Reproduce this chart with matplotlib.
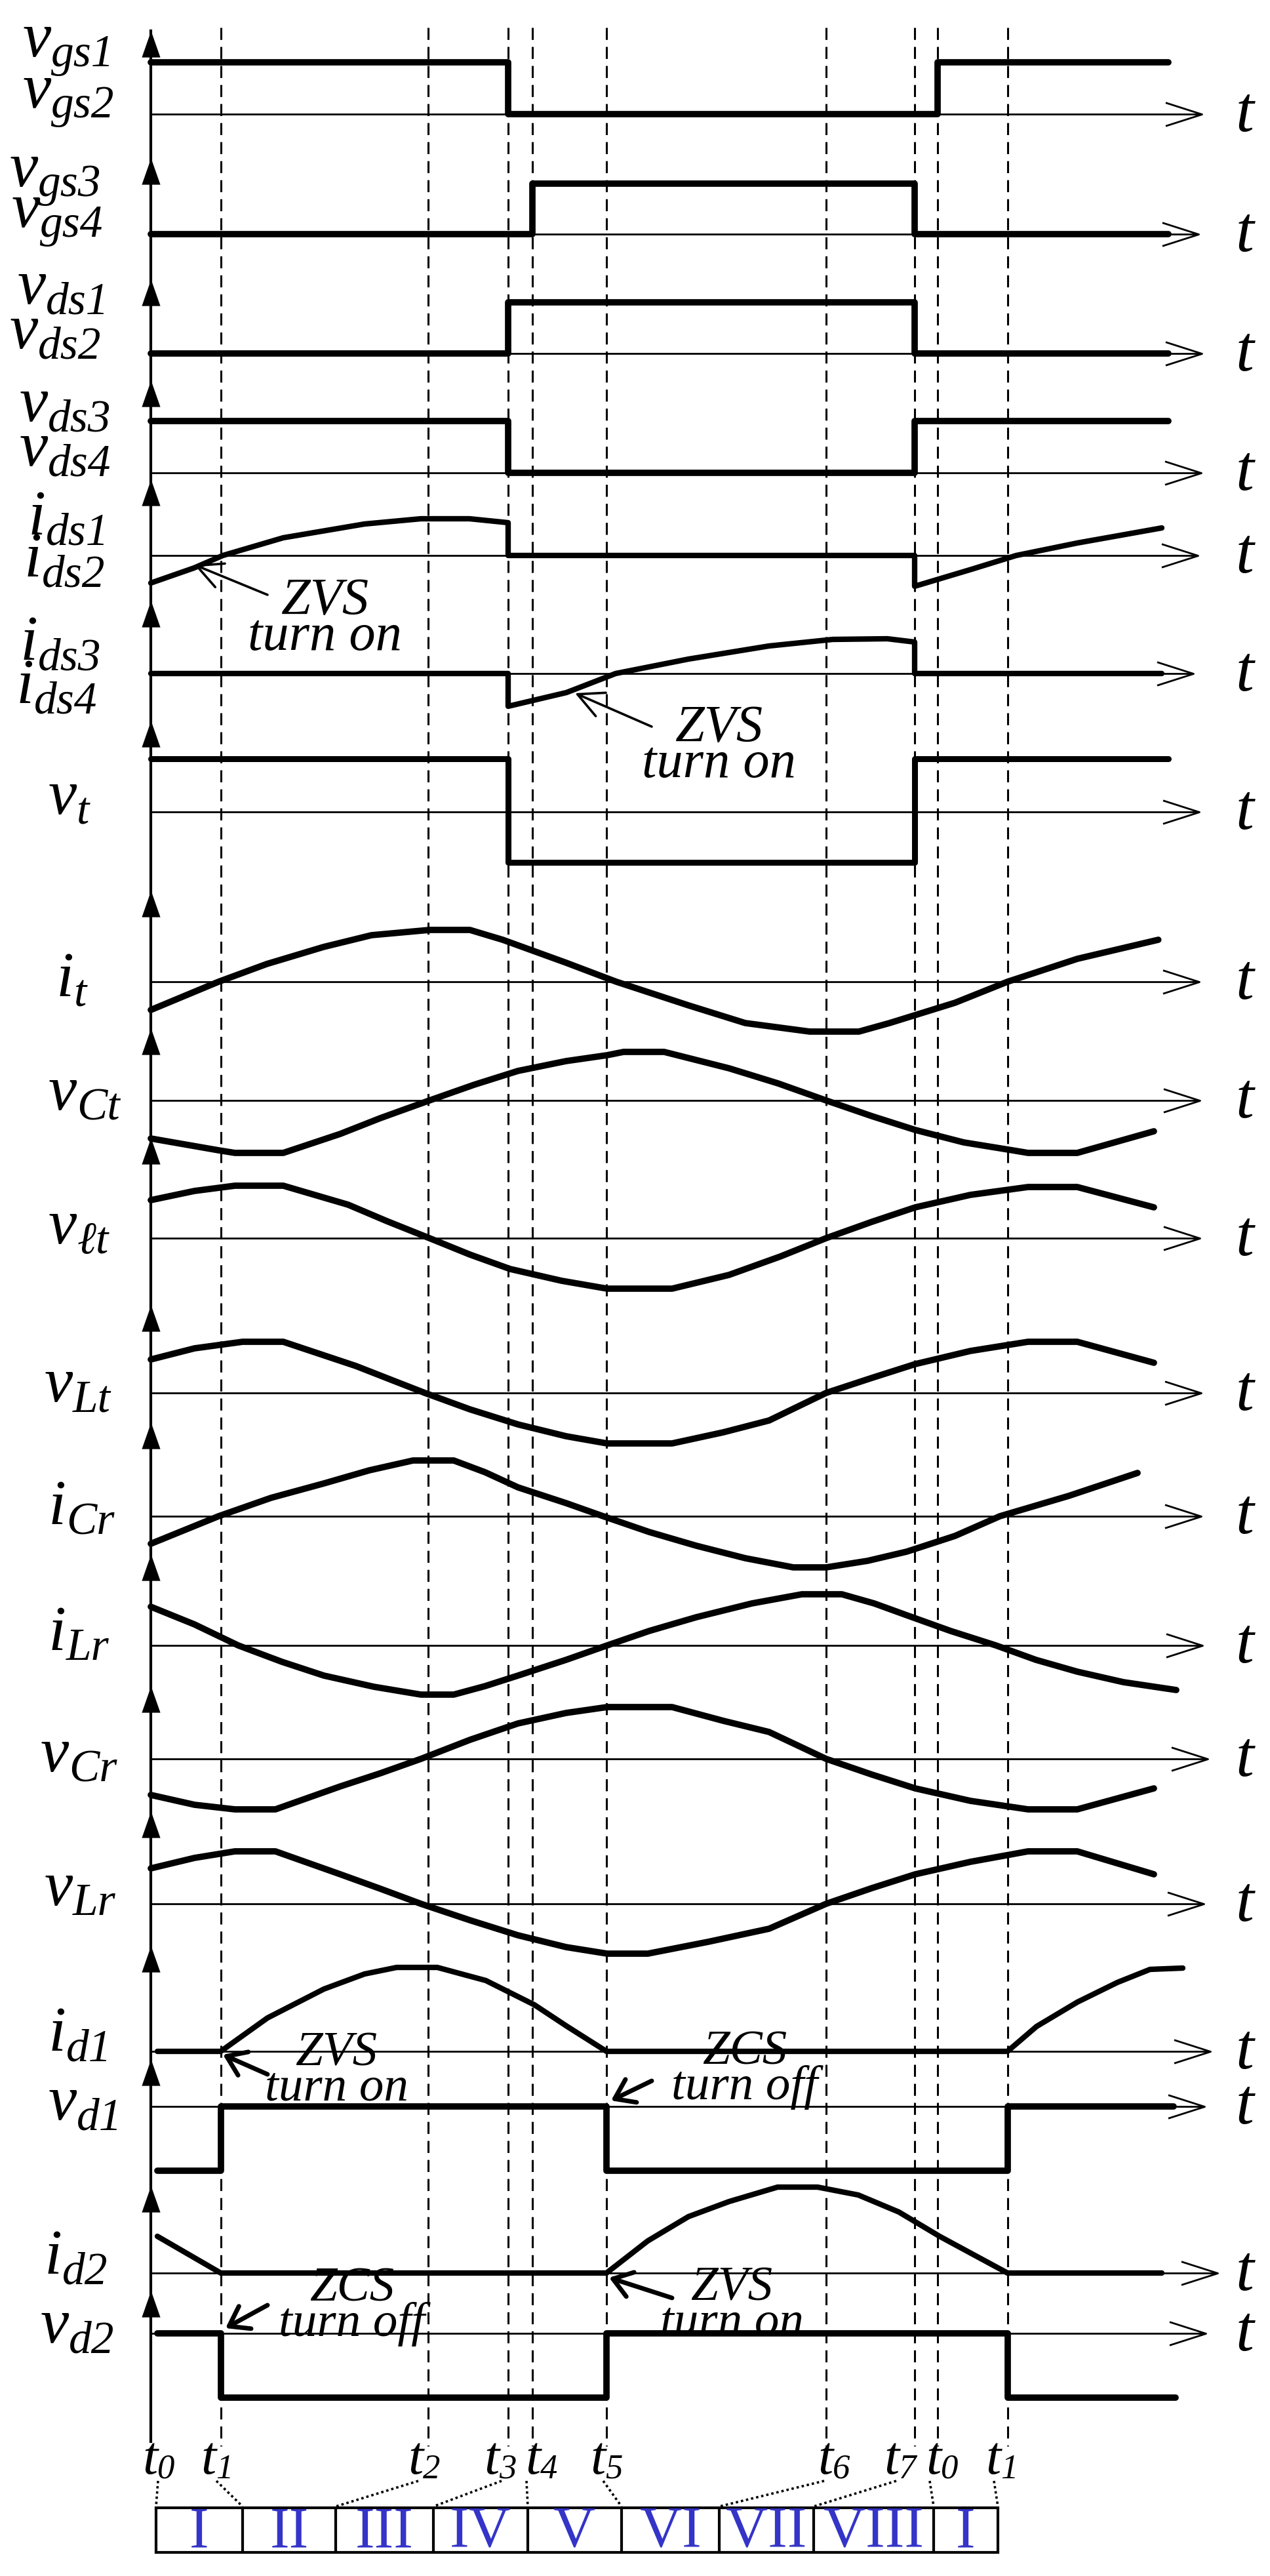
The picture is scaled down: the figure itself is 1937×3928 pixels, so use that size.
import numpy as np
import matplotlib
matplotlib.use("Agg")
from matplotlib import pyplot as plt
from matplotlib.path import Path
import matplotlib.transforms as mtransforms

W, H = 1937, 3928
X0, PX_PER_DEG = 230, 3.3333   # t0 sits on the vertical axis, one degree of the period in pixels

SERIF = ['Liberation Serif', 'DejaVu Serif']
BLUE = '#3434c8'

# switching instants in degrees of one period (t0 = 0 on the axis)
t_marks = [32, 127, 163.5, 174.6, 208.5, 309, 349.5, 360, 392]

# rows: baseline of each time axis, tip of its vertical arrow, end of its t arrow
row_y = [174, 357, 539, 721, 847, 1027, 1238, 1497, 1678, 1888,
         2124, 2312, 2509, 2682, 2903, 3128, 3212, 3466, 3558]
axis_tip_y = [47, 241, 426, 580, 731, 916, 1099, 1358, 1568, 1735,
              1990, 2169, 2370, 2571, 2762, 2967, 3140, 3333, 3493]
arrow_end = [481, 479.4, 481, 480.6, 479.1, 477, 479.7, 479.7, 480, 480,
             480.6, 480.6, 481.2, 483.6, 481.8, 484.8, 482.1, 488.1, 482.7]

# waveforms: time (deg) and level (positive = above the time axis)
vgs12_t = [0, 163.5, 163.5, 360, 360, 465.6]
vgs12 = [79, 79, 0, 0, 79, 79]
vgs34_t = [0, 174.6, 174.6, 349.5, 349.5, 465.6]
vgs34 = [0, 0, 77, 77, 0, 0]
vds12_t = [0, 163.5, 163.5, 349.5, 349.5, 465.6]
vds12 = [0, 0, 78, 78, 0, 0]
vds34_t = [0, 163.5, 163.5, 349.5, 349.5, 465.6]
vds34 = [79, 79, 0, 0, 79, 79]
ids12_t = [0, 19.8, 33, 60.6, 97.8, 123.6, 145.8, 163.5, 163.5, 349.5, 349.5, 375.6, 396, 423.9, 462.6]
ids12 = [-42, -19, 0, 27, 48, 56, 56, 50, 0, 0, -47, -21, 0, 19, 42]
ids34_t = [0, 163.5, 163.5, 190.2, 212.7, 246, 282.9, 312, 337, 349.5, 349.5, 462.6]
ids34 = [0, 0, -50, -29, 0, 22, 42, 52, 53, 48, 0, 0]
vt_t = [0, 163.5, 163.5, 349.5, 349.5, 465.6]
vt = [81, 81, -77, -77, 81, 81]

it_t = [0, 31, 53, 79, 101, 127.5, 146, 161, 190, 213, 246, 272, 301.5, 324, 338, 368, 392, 424, 461]
it = [-43, 0, 27, 53, 71, 79, 79, 64, 29, 0, -36, -63, -76, -76, -63, -32, 0, 35, 64]
vct_t = [0, 31, 38.5, 60.6, 86.7, 105, 127.5, 148, 168, 190, 208.8, 216.3, 234.9, 264.6,
         287, 309, 330, 349.8, 372, 394.2, 401.4, 423.9, 459]
vct = [-58, -76, -80, -80, -51, -27, 0, 24, 45, 60, 69, 74, 74, 49,
       26, 0, -24, -45, -64, -76, -80, -80, -47]
vlt_t = [0, 20, 38.5, 60.6, 90.3, 108, 127.5, 146, 164.4, 188, 208.8, 238.5, 264.6,
         288, 309, 330, 349.8, 375, 401.4, 423.9, 459]
vlt = [58, 72, 80, 80, 51, 26, 0, -25, -47, -65, -77, -77, -56,
       -28, 0, 25, 47, 66, 78, 78, 47]
vLt_t = [0, 20, 42, 60.6, 93.9, 110, 125.4, 146, 168, 190, 208.8, 238.5, 262, 282.9,
         309, 330, 349.8, 375, 401.4, 423.9, 459]
vLt = [51, 68, 78, 78, 41, 20, 0, -25, -48, -66, -77, -77, -60, -42,
       0, 23, 44, 64, 78, 78, 46]
icr_t = [0, 31, 55, 79.2, 100, 120, 138.6, 153, 168, 190, 207, 228, 249.6, 272, 294,
         309, 328, 345.9, 368, 388.5, 420, 451.5]
icr = [-42, 0, 28, 50, 70, 85, 85, 67, 44, 20, 0, -24, -45, -64, -78,
       -78, -68, -54, -30, 0, 31, 66]
ilr_t = [0, 20, 40, 60, 79.2, 102, 123.6, 138.6, 153, 168, 190, 208.8, 228, 249.6, 275,
         297.9, 316.2, 331, 345.9, 366, 386.7, 405, 423.9, 445, 469.2]
ilr = [59, 32, 0, -25, -46, -63, -75, -75, -62, -46, -22, 0, 22, 43, 64,
       78, 78, 64, 46, 22, 0, -22, -40, -56, -68]
vcr_t = [0, 20, 38.5, 57, 86.7, 105, 123.6, 146, 168, 190, 208.8, 238.5, 262, 282.9,
         309, 330, 349.8, 375, 401.4, 423.9, 459]
vcr = [-55, -70, -77, -77, -42, -22, 0, 29, 54, 70, 79, 79, 58, 41,
       0, -24, -45, -64, -77, -77, -45]
vlr_t = [0, 20, 38.5, 57, 86.7, 105, 123.6, 146, 168, 190, 208.8, 227.4, 255, 282.9,
         309, 330, 349.8, 375, 401.4, 423.9, 459]
vlr = [54, 70, 80, 80, 45, 23, 0, -25, -48, -66, -76, -76, -58, -38,
       0, 24, 45, 64, 80, 80, 45]
id1_t = [3, 32, 53.4, 79.2, 97.8, 112.5, 131.1, 153.3, 175.5, 190.5, 208.5,
         392, 405.3, 423.9, 442.2, 457.2, 472.2]
id1 = [0, 0, 51, 95, 118, 128, 128, 108, 71, 38, 0, 0, 38, 75, 105, 125, 127]
vd1_t = [3, 32, 32, 208.5, 208.5, 392, 392, 468]
vd1 = [-98, -98, 0, 0, -98, -98, 0, 0]
id2_t = [3, 32, 208.5, 227.4, 246, 264.6, 286.8, 305.1, 323.7, 342.3, 360.9, 392, 462.6]
id2 = [56, 0, 0, 49, 86, 109, 131, 131, 119, 93, 56, 0, 0]
vd2_t = [3, 32, 32, 208.5, 208.5, 392, 392, 468.9]
vd2 = [0, 0, -98, -98, 0, 0, -98, -98]

waves = [(vgs12_t, vgs12), (vgs34_t, vgs34), (vds12_t, vds12), (vds34_t, vds34),
         (ids12_t, ids12), (ids34_t, ids34), (vt_t, vt), (it_t, it), (vct_t, vct),
         (vlt_t, vlt), (vLt_t, vLt), (icr_t, icr), (ilr_t, ilr), (vcr_t, vcr),
         (vlr_t, vlr), (id1_t, id1), (vd1_t, vd1), (id2_t, id2), (vd2_t, vd2)]
wave_lw = [7, 7, 7, 7, 6, 6, 6.5, 7, 7, 7, 7, 7, 7, 7, 7, 6, 7, 6, 7]

# left labels: symbol, subscript, x and baseline in pixels
row_labels = [('v', 'gs1', 35, 86), ('v', 'gs2', 35, 164), ('v', 'gs3', 15, 284), ('v', 'gs4', 18, 346),
              ('v', 'ds1', 27, 463), ('v', 'ds2', 15, 531), ('v', 'ds3', 30, 642), ('v', 'ds4', 30, 710),
              ('i', 'ds1', 43, 815), ('i', 'ds2', 37, 879), ('i', 'ds3', 31, 1006), ('i', 'ds4', 25, 1072),
              ('v', 't', 74, 1241), ('i', 't', 86, 1519), ('v', 'Ct', 74, 1692), ('v', 'ℓt', 74, 1896),
              ('v', 'Lt', 68, 2137), ('i', 'Cr', 74, 2324), ('i', 'Lr', 74, 2516), ('v', 'Cr', 62, 2701),
              ('v', 'Lr', 68, 2905), ('i', 'd1', 74, 3127), ('v', 'd1', 74, 3232), ('i', 'd2', 68, 3467),
              ('v', 'd2', 62, 3572)]

# bottom time labels and the interval boxes
time_subs = ['0', '1', '2', '3', '4', '5', '6', '7', '0', '1']
time_label_x = [217, 306, 622, 738, 801, 900, 1247, 1348, 1412, 1503]
conn_top = [3.3, 30, 122.4, 160.5, 171.9, 207, 308.1, 341.1, 356.4, 385.8]
box_edges = [2.4, 42, 84.6, 129.3, 172.5, 215.4, 260.1, 303.3, 358.2, 387.6]
modes = ['I', 'II', 'III', 'IV', 'V', 'VI', 'VII', 'VIII', 'I']

# soft-switching notes: text, centre x, baseline of the second line, arrow tail, arrow tip
notes_thin = [('ZVS\nturn on', 495, 991, (408, 907), (296, 861)),
              ('ZVS\nturn on', 1096, 1185, (994, 1108), (877, 1057))]
notes_bold = [('ZVS\nturn on', 513, 3203, (408, 3163), (340, 3133)),
              ('ZCS\nturn off', 1136, 3201, (994, 3173), (932, 3203)),
              ('ZCS\nturn off', 537, 3562, (408, 3515), (344, 3550)),
              ('ZVS\nturn on', 1116, 3561, (1025, 3504), (929, 3473))]

fig = plt.figure(figsize=(W / 100, H / 100), dpi=100)
ax = fig.add_axes([0, 0, 1, 1])
ax.set_xlim(-X0 / PX_PER_DEG, (W - X0) / PX_PER_DEG)
ax.set_ylim(H, 0)
ax.axis('off')
px = mtransforms.Affine2D().scale(1 / W, -1 / H).translate(0, 1) + fig.transFigure

open_head = Path([(-1, 0.32), (0, 0), (-1, -0.32)], [Path.MOVETO, Path.LINETO, Path.LINETO])
up_head = Path([(0, 1), (-0.7, -1), (0.7, -1), (0, 1)],
               [Path.MOVETO, Path.LINETO, Path.LINETO, Path.CLOSEPOLY])

# dashed instants and the vertical axis
ax.vlines(t_marks, 42, 3730, colors='k', lw=2.2, linestyles=(0, (6, 3.5)))
ax.plot([0, 0], [47, 3723], color='k', lw=3)

for y, tip, end, (tt, lv), lw in zip(row_y, axis_tip_y, arrow_end, waves, wave_lw):
    ax.plot([0, end], [y, y], color='k', lw=2.0, solid_capstyle='butt')
    ax.plot([end], [y], marker=open_head, ms=80, mfc='none', mec='k', mew=2.0)
    ax.plot([0], [tip + 20], marker=up_head, ms=29, color='k', mew=0)
    ax.plot(tt, y - np.array(lv), color='k', lw=lw, solid_capstyle='round',
            solid_joinstyle='round')
    ax.text(1898, y + 26, 't', transform=px, fontsize=72, fontstyle='italic',
            family=SERIF, ha='center', va='baseline')


def symbol(x, y, main, sub, size, subsize, dx=1, dy=3, color='k'):
    t = ax.text(x, y, main, transform=px, fontsize=size, fontstyle='italic',
                family=SERIF, va='baseline', ha='left', color=color)
    ax.annotate(sub, xy=(1, 0), xycoords=t, xytext=(dx, dy), textcoords='offset points',
                fontsize=subsize, fontstyle='italic', family=SERIF, va='baseline', ha='left',
                color=color)


for main, sub, x, y in row_labels:
    symbol(x, y, main, sub, 70, 50, dx=0, dy=4)

for sub, x in zip(time_subs, time_label_x):
    symbol(x, 3772, 't', sub, 60, 38, dx=0, dy=8)

# dotted leaders from the instants to the interval boxes
for a, b in zip(conn_top, box_edges):
    ax.plot([a, b], [3783, 3822], color='k', lw=2.6, linestyle=(0, (1, 1.2)))

ax.plot([box_edges[0], box_edges[-1]], [3824, 3824], color='k', lw=3)
ax.plot([box_edges[0], box_edges[-1]], [3892, 3892], color='k', lw=3)
ax.vlines(box_edges, 3824, 3892, colors='k', lw=3)
for a, b, m in zip(box_edges[:-1], box_edges[1:], modes):
    ax.text((a + b) / 2, 3883, m, ha='center', va='baseline', color=BLUE,
            fontsize=64, family=SERIF)

for notes, size, spacing, lw, head in (
        (notes_thin, 58, 0.655, 2.6, '->,head_length=0.7,head_width=0.35'),
        (notes_bold, 54, 0.72, 5, '->,head_length=0.5,head_width=0.35')):
    for txt, cx, y2, tail, tip in notes:
        ax.text(cx, y2, txt, transform=px, ha='center', va='baseline', fontsize=size,
                fontstyle='italic', family=SERIF, linespacing=spacing,
                multialignment='center')
        ax.annotate('', xy=tip, xycoords=px, xytext=tail, textcoords=px,
                    arrowprops=dict(arrowstyle=head, mutation_scale=40, lw=lw,
                                    color='k', shrinkA=0, shrinkB=0))

fig.savefig('out.png', dpi=100)
